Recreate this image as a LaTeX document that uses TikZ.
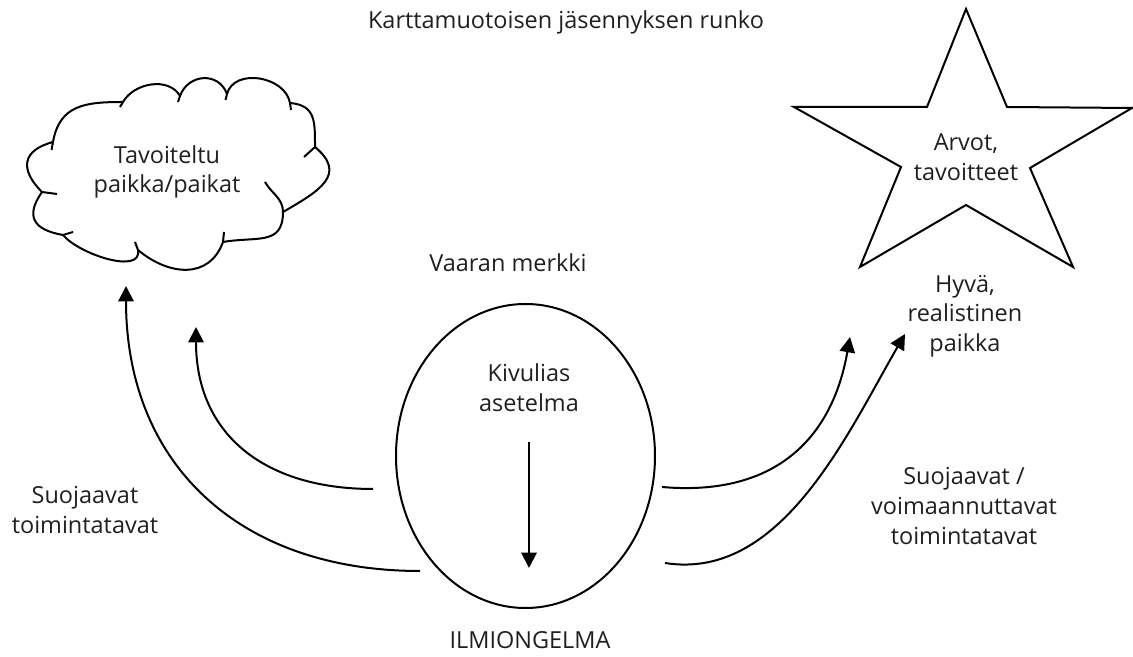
\documentclass[tikz,border=0pt]{standalone}
\usepackage{fontspec}
\setmainfont{Open Sans}
\usetikzlibrary{arrows.meta,shapes.geometric}
\begin{document}
\begin{tikzpicture}[x=0.75pt,y=0.75pt,
  line width=1.5pt,
  lbl/.style={font=\fontsize{17.6}{22.2}\selectfont, text=black!88, align=center, inner sep=0pt},
  tipped/.style={-{Triangle[length=11.5pt,width=11.5pt]}},
  ]
\useasboundingbox (0,0) rectangle (1133,657);

% cloud outline, puff by puff (clockwise from the left)
\draw[line join=round]
  (53,515) to[out=80,in=180,looseness=1.2] (123,555)
  to[out=60,in=120] (180,561)
  to[out=70,in=110,looseness=1.3] (227,563)
  to[out=75,in=100,looseness=1.1] (290,554)
  to[out=-5,in=90,looseness=1.3] (315,510)
  to[out=-40,in=30,looseness=1.5] (283,445)
  to[out=-90,in=10,looseness=1.3] (223,415)
  to[out=-110,in=-40,looseness=1.2] (138,407)
  to[out=-80,in=-50,looseness=0.85] (63,422)
  to[out=170,in=-125,looseness=1.6] (42,465)
  to[out=135,in=-165,looseness=1.6] (53,515);
% short inner strokes where the puffs meet
\draw (53,515) -- (51.5,507);
\draw (123,555) -- (120,550);
\draw (180,561) -- (178,555);
\draw (227,563) -- (225.5,557);
\draw (290,554) -- (291,547);
\draw (315,510) -- (304,500);
\draw (283,445) to[out=90,in=-60] (265,475);
\draw (223,415) -- (224,425);
\draw (138,407) -- (135,415);
\draw (63,422) -- (73,425);
\draw (42,465) -- (57,463);

% star
\draw[line join=miter]
  (966,648) -- (1007,550) -- (1132,549) -- (1030,489) -- (1073,390)
  -- (966,452) -- (860,390) -- (901,490) -- (794,550) -- (927,550) -- cycle;

% labels
\node[lbl] (title) at (566,635) {Karttamuotoisen jäsennyksen runko};
\node[lbl] (place) at (167,485) {Tavoiteltu\\paikka/paikat};
\node[lbl] (values) at (966,500) {Arvot,\\tavoitteet};
\node[lbl] (warn) at (508,394) {Vaaran merkki};
\node[lbl] (good) at (965,341) {Hyvä,\\realistinen\\paikka};
\node[lbl] (issue) at (530,17) {ILMIONGELMA};
\node[lbl] (protL) at (85,147) {Suojaavat\\toimintatavat};
\node[lbl] (protR) at (964,151) {Suojaavat /\\voimaannuttavat\\toimintatavat};

% central problem
\node[ellipse, draw, minimum width=194.25pt, minimum height=228pt, inner sep=0pt] (prob) at (525.5,201) {};
\node[lbl] (painful) at (529,269) {Kivulias\\asetelma};

% connector ends
\coordinate (dtop) at (529,215);
\coordinate (dbot) at (529,89);
\coordinate (l1s) at (373,168);
\coordinate (l1e) at (196,330);
\coordinate (l2s) at (420,86);
\coordinate (l2e) at (126,371);
\coordinate (r1s) at (662,170);
\coordinate (r1e) at (850,320);
\coordinate (r2s) at (665,94);
\coordinate (r2e) at (905,323);

\draw[tipped] (dtop) -- (dbot);
\draw[tipped] (l1s) to[out=180,in=-90,looseness=1.15] (l1e);
\draw[tipped] (l2s) to[out=180,in=-90,looseness=1.12] (l2e);
\draw[tipped] (r1s) to[out=-5,in=-100,looseness=1.15] (r1e);
\draw[tipped] (r2s) to[out=-9,in=-120,looseness=0.9] (r2e);
\end{tikzpicture}
\end{document}
